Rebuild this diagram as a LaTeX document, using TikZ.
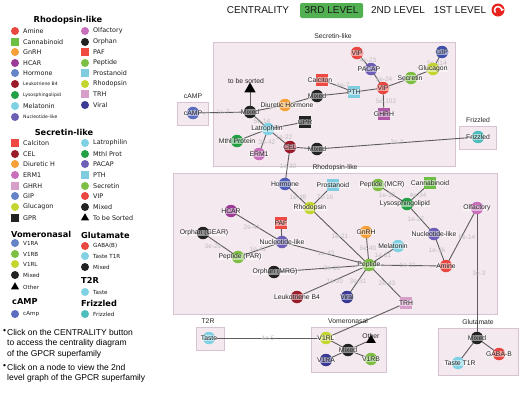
\documentclass[tikz,border=0pt]{standalone}
\usepackage{fontspec}
\setmainfont{Liberation Sans}
\newfontfamily\dvs{DejaVu Sans}
\usetikzlibrary{shapes.geometric,arrows.meta}
\pgfdeclarelayer{bg}
\pgfdeclarelayer{boxes}
\pgfdeclarelayer{edges}
\pgfsetlayers{bg,boxes,edges,main}
\definecolor{cAmine}{HTML}{E9473F}
\definecolor{cCanna}{HTML}{6DBE45}
\definecolor{cOrange}{HTML}{F6A03A}
\definecolor{cHCAR}{HTML}{9C3C97}
\definecolor{cHormone}{HTML}{6683C7}
\definecolor{cHormoneG}{HTML}{4F5FB8}
\definecolor{cLeuk}{HTML}{9A1B29}
\definecolor{cLyso}{HTML}{25A145}
\definecolor{cMela}{HTML}{7FD1E3}
\definecolor{cNuc}{HTML}{6C5FB5}
\definecolor{cOlf}{HTML}{C86FBB}
\definecolor{cOrph}{HTML}{222222}
\definecolor{cPAF}{HTML}{EE4A42}
\definecolor{cPep}{HTML}{7CBF43}
\definecolor{cProst}{HTML}{7FCCE0}
\definecolor{cRhodo}{HTML}{C3D630}
\definecolor{cTRH}{HTML}{D89ECA}
\definecolor{cGHRHg}{HTML}{B057A8}
\definecolor{cViral}{HTML}{3A3A94}
\definecolor{cFriz}{HTML}{4DBDBD}
\definecolor{cCamp}{HTML}{5B6DBE}
\definecolor{cGIP}{HTML}{3F4FAA}
\definecolor{boxfill}{HTML}{F5E9F0}
\definecolor{boxline}{HTML}{D6C2D0}
\definecolor{btngreen}{HTML}{52B052}
\definecolor{iconred}{HTML}{E8231E}
\definecolor{edgecol}{HTML}{5C5C5C}
\definecolor{wcol}{HTML}{BDBDBD}
\tikzset{
  cn/.style={circle, minimum size=12.5pt, inner sep=0pt},
  sq/.style={rectangle, minimum size=12pt, inner sep=0pt},
  tri/.style={regular polygon, regular polygon sides=3, minimum size=13pt, inner sep=0pt, fill=black},
  lbl/.style={font=\fontsize{6.8}{7}\selectfont, text=black!85, fill=white, fill opacity=0.5, text opacity=1, inner sep=0.3pt},
  lbltxt/.style={font=\fontsize{6.8}{7}\selectfont, text=black!85, inner sep=0.3pt},
  ew/.style={font=\fontsize{6.5}{7}\selectfont, text=wcol, inner sep=0pt},
  edge/.style={draw=edgecol, line width=0.9pt},
  grp/.style={fill=boxfill, draw=boxline, line width=0.6pt, inner sep=0pt, anchor=north west},
  gtitle/.style={font=\fontsize{6.8}{7}\selectfont, text=black!85, inner sep=0pt},
  lgc/.style={circle, minimum size=8pt, inner sep=0pt},
  lgs/.style={rectangle, minimum size=7.5pt, inner sep=0pt},
  lgtri/.style={regular polygon, regular polygon sides=3, minimum size=9.5pt, inner sep=0pt, fill=black},
  lgt/.style={font=\dvs\fontsize{6.4}{7}\selectfont, inner sep=0pt, anchor=west, text=black!90},
  lgtitle/.style={font=\dvs\bfseries\fontsize{8.2}{9}\selectfont, inner sep=0pt},
  topt/.style={font=\fontsize{10}{11}\selectfont, inner sep=0pt, text=black!90},
  bul/.style={font=\fontsize{8.5}{10}\selectfont, inner sep=0pt, anchor=west},
}
\newcommand\LC[6]{\node[#1, fill=#2] (#3) at (#4) {};\node[lgt] (#3t) at ([xshift=8pt]#3.center) {#5#6};}
\newcommand\GN[6]{\node[#1, fill=#2] (#3) at (#4) {};\node[lbl] (#3l) at ([shift={(#6)}]#3.center) {#5};}
\newcommand\smalltxt{\fontsize{4.6}{5}\selectfont}
\newcommand\midtxt{\fontsize{5.6}{6}\selectfont}
\begin{document}
\begin{tikzpicture}[x=1pt,y=-1pt]
\useasboundingbox (0,0) rectangle (520,397);
\begin{pgfonlayer}{bg}
\fill[white] (0,0) rectangle (520,397);
\end{pgfonlayer}
% ---------------- legend ----------------
\node[lgtitle] (tRho) at (68,20) {Rhodopsin-like};
\LC{lgc}{cAmine}{la1}{15,31}{}{Amine}
\LC{lgs}{cCanna}{la2}{15,42}{}{Cannabinoid}
\LC{lgc}{cOrange}{la3}{15,52}{}{GnRH}
\LC{lgc}{cHCAR}{la4}{15,63}{}{HCAR}
\LC{lgc}{cHormone}{la5}{15,73}{}{Hormone}
\LC{lgc}{cLeuk}{la6}{15,84}{\smalltxt}{Leukotriene B4}
\LC{lgc}{cLyso}{la7}{15,95}{\smalltxt}{Lysosphingolipid}
\LC{lgc}{cMela}{la8}{15,106}{}{Melatonin}
\LC{lgc}{cNuc}{la9}{15,117}{\smalltxt}{Nucleotide-like}
\LC{lgc}{cOlf}{lb1}{85,31}{}{Olfactory}
\LC{lgc}{cOrph}{lb2}{85,42}{}{Orphan}
\LC{lgs}{cPAF}{lb3}{85,52}{}{PAF}
\LC{lgc}{cPep}{lb4}{85,63}{}{Peptide}
\LC{lgs}{cProst}{lb5}{85,73}{}{Prostanoid}
\LC{lgc}{cRhodo}{lb6}{85,84}{}{Rhodopsin}
\LC{lgs}{cTRH}{lb7}{85,94}{}{TRH}
\LC{lgc}{cViral}{lb8}{85,105}{}{Viral}
\node[lgtitle] (tSec) at (64,132) {Secretin-like};
\LC{lgs}{cPAF}{lc1}{15,143}{}{Calciton}
\LC{lgc}{cLeuk}{lc2}{15,154}{}{CEL}
\LC{lgc}{cOrange}{lc3}{15,164}{}{Diuretic H}
\LC{lgc}{cOlf}{lc4}{15,175}{}{ERM1}
\LC{lgs}{cTRH}{lc5}{15,186}{}{GHRH}
\LC{lgc}{cHormone}{lc6}{15,196}{}{GIP}
\LC{lgc}{cRhodo}{lc7}{15,207}{}{Glucagon}
\LC{lgs}{cOrph}{lc8}{15,218}{}{GPR}
\LC{lgc}{cMela}{ld1}{85,143}{}{Latrophilin}
\LC{lgc}{cLyso}{ld2}{85,154}{}{Mthl Prot}
\LC{lgc}{cNuc}{ld3}{85,164}{}{PACAP}
\LC{lgs}{cProst}{ld4}{85,175}{}{PTH}
\LC{lgc}{cPep}{ld5}{85,186}{}{Secretin}
\LC{lgc}{cAmine}{ld6}{85,196}{}{VIP}
\LC{lgc}{cOrph}{ld7}{85,207}{}{Mixed}
\LC{lgtri}{black}{ld8}{85,218}{}{To be Sorted}
\node[lgtitle, anchor=west] (tVom) at (11,234) {Vomeronasal};
\LC{lgc}{cHormone}{le1}{15,243}{\midtxt}{V1RA}
\LC{lgc}{cPep}{le2}{15,254}{\midtxt}{V1RB}
\LC{lgc}{cRhodo}{le3}{15,264}{\midtxt}{V1RL}
\LC{lgc}{cOrph}{le4}{15,275}{\midtxt}{Mixed}
\LC{lgtri}{black}{le5}{15,287}{\midtxt}{Other}
\node[lgtitle, anchor=west] (tGlu) at (81,235) {Glutamate};
\LC{lgc}{cAmine}{lf1}{85,246}{\midtxt}{GABA(B)}
\LC{lgc}{cMela}{lf2}{85,256}{\midtxt}{Taste T1R}
\LC{lgc}{cOrph}{lf3}{85,267}{\midtxt}{Mixed}
\node[lgtitle, anchor=west] (tT2R) at (81,280) {T2R};
\LC{lgc}{cMela}{lg1}{85,292}{\midtxt}{Taste}
\node[lgtitle, anchor=west] (tFri) at (81,303) {Frizzled};
\LC{lgc}{cFriz}{lg2}{85,314}{\midtxt}{Frizzled}
\node[lgtitle, anchor=west] (tCam) at (12,302) {cAMP};
\LC{lgc}{cCamp}{lg3}{15,314}{\midtxt}{cAmp}
% bullets
\node[bul] (b1) at (3,332) {\textbullet};
\node[bul] (b1a) at (7,332) {Click on the CENTRALITY button};
\node[bul] (b1b) at (7,343) {to access the centrality diagram};
\node[bul] (b1c) at (7,354) {of the GPCR superfamily};
\node[bul] (b2) at (3,367) {\textbullet};
\node[bul] (b2a) at (7,367) {Click on a node to view the 2nd};
\node[bul] (b2b) at (7,378) {level graph of the GPCR superfamily};
% ---------------- top bar ----------------
\node[topt] (cent) at (258,10.5) {CENTRALITY};
\node[topt, fill=btngreen, rounded corners=2pt, minimum width=63pt, minimum height=15pt] (lv3) at (331.5,10.5) {3RD LEVEL};
\node[topt] (lv2) at (398,10.5) {2ND LEVEL};
\node[topt] (lv1) at (460,10.5) {1ST LEVEL};
\node[circle, fill=iconred, minimum size=13pt, inner sep=0pt] (back) at (498,10) {};
\draw[white, line width=1.5pt, -{Triangle[length=2.6pt,width=4pt]}] ([shift={(-2.5,2.5)}]back.center) arc[start angle=225, end angle=-20, radius=3.5pt];
% ---------------- group boxes ----------------
\begin{pgfonlayer}{boxes}
\node[grp, minimum width=242pt, minimum height=124pt] (bxSec) at (213,42) {};
\node[grp, minimum width=31pt, minimum height=23pt] (bxCam) at (177,102) {};
\node[grp, minimum width=37pt, minimum height=23pt] (bxFri) at (459,126) {};
\node[grp, minimum width=324pt, minimum height=141pt] (bxRho) at (173,173) {};
\node[grp, minimum width=28pt, minimum height=23pt] (bxT2R) at (196,327) {};
\node[grp, minimum width=75pt, minimum height=45pt] (bxVom) at (311,327) {};
\node[grp, minimum width=80pt, minimum height=47pt] (bxGlu) at (438,328) {};
\end{pgfonlayer}
\node[gtitle] (gtSec) at (333,36.5) {Secretin-like};
\node[gtitle] (gtCam) at (193,96) {cAMP};
\node[gtitle] (gtFri) at (478,120) {Frizzled};
\node[gtitle] (gtRho) at (335,168) {Rhodopsin-like};
\node[gtitle] (gtT2R) at (208,321) {T2R};
\node[gtitle] (gtVom) at (348,321) {Vomeronasal};
\node[gtitle] (gtGlu) at (478,322) {Glutamate};
% ---------------- edge weights ----------------
\node[ew] (w1) at (223,112) {1e-7};
\node[ew] (w2) at (262,121) {5e-14};
\node[ew] (w3) at (343,85) {4e-7};
\node[ew] (w4) at (284,137) {1e-22};
\node[ew] (w5) at (267,142) {3e-42};
\node[ew] (w6) at (368,60) {4e-23};
\node[ew] (w7) at (384,79) {1e-24};
\node[ew] (w8) at (386,101) {5e-102};
\node[ew] (w9) at (437,63) {5e-114};
\node[ew] (w10) at (288,166) {1e-30};
\node[ew] (w11) at (397,142) {2e-3};
\node[ew] (w12) at (298,197) {1e-48};
\node[ew] (w13) at (325,197) {7e-16};
\node[ew] (w14) at (252,227) {2e-41};
\node[ew] (w15) at (340,236) {1e-21};
\node[ew] (w16) at (213,246) {3e-29};
\node[ew] (w17) at (258,249) {1e-41};
\node[ew] (w18) at (326,253) {1e-43};
\node[ew] (w19) at (387,195) {1e-30};
\node[ew] (w20) at (418,195) {4e-34};
\node[ew] (w21) at (416,219) {1e-27};
\node[ew] (w22) at (467,237) {6e-14};
\node[ew] (w23) at (437,250) {1e-36};
\node[ew] (w24) at (368,248) {6e-40};
\node[ew] (w25) at (383,255) {1e-31};
\node[ew] (w26) at (408,265) {1e-31};
\node[ew] (w27) at (332,268) {2e-10};
\node[ew] (w28) at (335,281) {1e-20};
\node[ew] (w29) at (358,281) {3e-31};
\node[ew] (w30) at (387,283) {2e-43};
\node[ew] (w31) at (479,273) {3e-3};
\node[ew] (w32) at (268,338) {4e-5};
% ---------------- Secretin-like graph ----------------
\node[tri] (tbs) at (250,89) {};
\node[lbltxt] (tbsl) at (246,81) {to be sorted};
\GN{cn}{cOrph}{mixA}{250,112}{Mixed}{0,0}
\GN{cn}{cOrange}{diur}{285,105}{Diuretic Hormone}{2,0}
\GN{cn}{cOrph}{mixB}{317,96}{Mixed}{0,0}
\GN{sq}{cPAF}{calc}{322,80}{Calciton}{-2,0}
\GN{sq}{cProst}{pth}{354,92}{PTH}{0,0}
\GN{cn}{cAmine}{vipC}{383,88}{VIP}{0,0}
\GN{cn}{cAmine}{vipT}{357,53}{VIP}{0,0}
\GN{cn}{cNuc}{pacap}{371,69}{PACAP}{-2,0}
\GN{cn}{cPep}{secr}{411,78}{Secretin}{-1,0}
\GN{cn}{cRhodo}{gluc}{433,69}{Glucagon}{0,0}
\GN{cn}{cGIP}{gip}{442,52}{GIP}{0,0}
\GN{sq}{cGHRHg}{ghrh}{384,114}{GHRH}{0,0}
\GN{cn}{cMela}{latr}{268,129}{Latrophilin}{-1,0}
\GN{sq}{cOrph}{gpr}{305,122}{GPR}{0,0}
\GN{cn}{cLyso}{mthl}{237,141}{Mthl Protein}{0,0}
\GN{cn}{cOlf}{erm1}{259,154}{ERM1}{0,0}
\GN{cn}{cLeuk}{cel}{290,147}{CEL}{0,0}
\GN{cn}{cOrph}{mixC}{317,149}{Mixed}{0,0}
\GN{cn}{cCamp}{camp}{193,113}{cAMP}{0,0}
\GN{cn}{cFriz}{friz}{478,137}{Frizzled}{0,0}
% ---------------- Rhodopsin-like graph ----------------
\GN{cn}{cHormoneG}{hormone}{285,184}{Hormone}{0,0}
\GN{sq}{cProst}{prost}{333,185}{Prostanoid}{0,0}
\GN{cn}{cRhodo}{rhodo}{310,208}{Rhodopsin}{0,0}
\GN{cn}{cPep}{pepMCR}{378,185}{Peptide (MCR)}{4,0}
\GN{sq}{cCanna}{canna}{430,183}{Cannabinoid}{0,0}
\GN{cn}{cLyso}{lyso}{407,204}{Lysosphingolipid}{-2,0}
\GN{cn}{cOlf}{olf}{477,208}{Olfactory}{0,0}
\GN{cn}{cNuc}{nucR}{434,234}{Nucleotide-like}{0,0}
\GN{cn}{cAmine}{amine}{446,266}{Amine}{0,0}
\GN{cn}{cPep}{pep}{369,265}{Peptide}{0,0}
\GN{cn}{cOrange}{gnrh}{366,232}{GnRH}{0,0}
\GN{cn}{cMela}{mela}{398,246}{Melatonin}{-5,0}
\GN{cn}{cHCAR}{hcar}{231,211}{HCAR}{0,0}
\GN{sq}{cPAF}{paf}{281,223}{PAF}{0,0}
\GN{cn}{cNuc}{nucL}{282,242}{Nucleotide-like}{0,0}
\GN{cn}{cOrph}{orphG}{203,233}{Orphan (GEAR)}{1,0}
\GN{cn}{cPep}{pepPAR}{238,257}{Peptide (PAR)}{2,0}
\GN{cn}{cOrph}{orphM}{274,272}{Orphan (MRG)}{1,0}
\GN{cn}{cLeuk}{leuk}{297,297}{Leukotriene B4}{0,0}
\GN{cn}{cViral}{viral}{347,297}{Viral}{0,0}
\GN{sq}{cTRH}{trh}{406,303}{TRH}{0,0}
% ---------------- small groups ----------------
\GN{cn}{cMela}{taste}{209,338}{Taste}{0,0}
\GN{cn}{cRhodo}{v1rl}{326,338}{V1RL}{0,0}
\GN{cn}{cOrph}{mixV}{348,350}{Mixed}{0,0}
\node[tri, minimum size=11pt] (other) at (371,340) {};
\node[lbltxt] (otherl) at (371,336) {Other};
\GN{cn}{cPep}{v1rb}{371,359}{V1RB}{0,0}
\GN{cn}{cViral}{v1ra}{326,360}{V1RA}{0,0}
\GN{cn}{cOrph}{mixG}{477,338}{Mixed}{0,0}
\GN{cn}{cAmine}{gabab}{499,354}{GABA-B}{0,0}
\GN{cn}{cMela}{tT1R}{458,363}{Taste T1R}{2,0}
% ---------------- edges ----------------
\begin{pgfonlayer}{edges}
\foreach \a/\b in {mixA/tbs, mixA/camp, mixA/diur, diur/mixB, mixB/pth, calc/pth, pth/vipC,
  vipC/pacap, pacap/vipT, vipC/secr, secr/gluc, gluc/gip, vipC/ghrh, mixA/latr, latr/gpr,
  latr/mthl, latr/erm1, latr/cel, cel/mixC, mixC/friz, cel/hormone,
  hormone/rhodo, prost/rhodo, rhodo/pep, hcar/nucL, paf/nucL, orphG/pepPAR, pepPAR/nucL,
  nucL/pep, orphM/pep, leuk/pep, viral/pep, trh/pep, gnrh/pep, mela/pep, pep/amine,
  pepMCR/lyso, canna/lyso, lyso/nucR, nucR/amine, amine/olf, olf/mixG, trh/v1rl,
  taste/v1rl, v1rl/mixV, mixV/other, mixV/v1rb, mixV/v1ra, mixG/gabab, mixG/tT1R}
  {\draw[edge] (\a.center) -- (\b.center);}
\end{pgfonlayer}
\end{tikzpicture}
\end{document}
